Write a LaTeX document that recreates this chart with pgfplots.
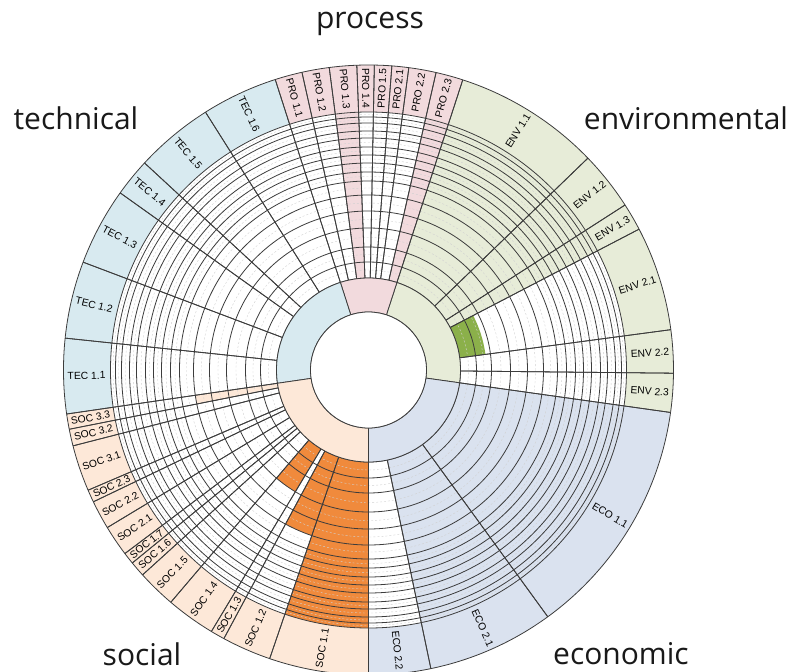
\documentclass[border=0pt]{standalone}
\usepackage{pgfplots}
\usepackage{pgfplotstable}
\pgfplotsset{compat=1.18}
\usepackage{fontspec}
\setmainfont{Liberation Sans}
\newfontfamily\titlefont{Open Sans}

\definecolor{envc}{HTML}{E7ECD8}
\definecolor{proc}{HTML}{F2DADD}
\definecolor{tecc}{HTML}{D8EAF0}
\definecolor{socc}{HTML}{FDE8D8}
\definecolor{ecoc}{HTML}{DAE2EF}
\definecolor{hiorange}{HTML}{F08A3C}
\definecolor{higreen}{HTML}{8BB04A}
\definecolor{linec}{HTML}{3C3C3C}

% label sectors: start/end angle (deg), label, label-ring colour, cell colour
\pgfplotstableread[col sep=comma]{
a1,a2,lab,bg,cell
72,44,ENV 1.1,envc,envc
44,32.75,ENV 1.2,envc,envc
32.75,27.5,ENV 1.3,envc,envc
27.5,7.6,ENV 2.1,envc,white
7.6,-0.6,ENV 2.2,envc,white
-0.6,-8,ENV 2.3,envc,white
-8,-54,ECO 1.1,ecoc,ecoc
-54,-78.2,ECO 2.1,ecoc,ecoc
-78.2,-90,ECO 2.2,ecoc,white
251.1,270,SOC 1.1,socc,white
241.7,251.1,SOC 1.2,socc,white
239,241.7,SOC 1.3,socc,white
229.6,239,SOC 1.4,socc,white
222.2,229.6,SOC 1.5,socc,white
219.25,222.2,SOC 1.6,socc,white
217,219.25,SOC 1.7,socc,white
211.1,217,SOC 2.1,socc,white
205.6,211.1,SOC 2.2,socc,white
203.2,205.6,SOC 2.3,socc,white
194.4,203.2,SOC 3.1,socc,white
191.2,194.4,SOC 3.2,socc,white
188.3,191.2,SOC 3.3,socc,white
174,188.3,TEC 1.1,tecc,white
159.3,174,TEC 1.2,tecc,white
144.5,159.3,TEC 1.3,tecc,white
137.25,144.5,TEC 1.4,tecc,white
122.3,137.25,TEC 1.5,tecc,white
107.8,122.3,TEC 1.6,tecc,white
102.6,107.8,PRO 1.1,proc,white
97.4,102.6,PRO 1.2,proc,white
92.2,97.4,PRO 1.3,proc,proc
88.9,92.2,PRO 1.4,proc,white
85.6,88.9,PRO 1.5,proc,white
82.4,85.6,PRO 2.1,proc,white
77.2,82.4,PRO 2.2,proc,white
72,77.2,PRO 2.3,proc,proc
}\sectors

% inner category ring
\pgfplotstableread[col sep=comma]{
a1,a2,col
-8,72,envc
72,107.8,proc
107.8,188.3,tecc
188.3,270,socc
-90,-8,ecoc
}\cats

% highlighted cells
\pgfplotstableread[col sep=comma]{
a1,a2,r1,r2,col
251.1,270,92,258,hiorange
241.7,251.1,92,175,hiorange
229.6,239,92,142,hiorange
188.3,191.2,92,175,socc
7.6,27.5,92,118,higreen
}\highlights

% ring radii
\pgfplotstableread{
r
92
108
123
142
159
175
189
198
207
215
223
232
239
247
253
258
}\rings

\newcommand\annsec[5]{%
  \path[#5] (axis cs:{#3*cos(#1)},{#3*sin(#1)})
    arc[start angle=#1,end angle=#2,radius=#3pt]
    -- (axis cs:{#4*cos(#2)},{#4*sin(#2)})
    arc[start angle=#2,end angle=#1,radius=#4pt] -- cycle;}

\begin{document}
\begin{tikzpicture}
\useasboundingbox (-368.5pt,-302pt) rectangle (424.5pt,370pt);
\begin{axis}[hide axis, disabledatascaling, x=1pt, y=1pt,
  xmin=-368.5, xmax=424.5, ymin=-302, ymax=370,
  clip=false, anchor=origin, at={(0pt,0pt)}]
\pgfplotsextra{%
  \pgfplotstablegetrowsof{\sectors}\pgfmathtruncatemacro\nsec{\pgfplotsretval-1}%
  \pgfplotstablegetrowsof{\highlights}\pgfmathtruncatemacro\nhi{\pgfplotsretval-1}%
  \pgfplotstablegetrowsof{\rings}\pgfmathtruncatemacro\nring{\pgfplotsretval-1}%
  \pgfplotstablegetrowsof{\cats}\pgfmathtruncatemacro\ncat{\pgfplotsretval-1}%
  % label ring and cell columns
  \foreach \i in {0,...,\nsec}{%
    \pgfplotstablegetelem{\i}{a1}\of\sectors\let\aA\pgfplotsretval
    \pgfplotstablegetelem{\i}{a2}\of\sectors\let\aB\pgfplotsretval
    \pgfplotstablegetelem{\i}{bg}\of\sectors\let\bg\pgfplotsretval
    \pgfplotstablegetelem{\i}{cell}\of\sectors\let\cc\pgfplotsretval
    \annsec{\aA}{\aB}{258}{305}{fill=\bg}
    \annsec{\aA}{\aB}{92}{258}{fill=\cc}
  }%
  % highlighted cells
  \foreach \i in {0,...,\nhi}{%
    \pgfplotstablegetelem{\i}{a1}\of\highlights\let\aA\pgfplotsretval
    \pgfplotstablegetelem{\i}{a2}\of\highlights\let\aB\pgfplotsretval
    \pgfplotstablegetelem{\i}{r1}\of\highlights\let\rA\pgfplotsretval
    \pgfplotstablegetelem{\i}{r2}\of\highlights\let\rB\pgfplotsretval
    \pgfplotstablegetelem{\i}{col}\of\highlights\let\hc\pgfplotsretval
    \annsec{\aA}{\aB}{\rA}{\rB}{fill=\hc}
  }%
  % faint mid circles and ring circles
  \foreach \i in {1,...,\nring}{%
    \pgfplotstablegetelem{\i}{r}\of\rings\let\rB\pgfplotsretval
    \pgfmathtruncatemacro\j{\i-1}%
    \pgfplotstablegetelem{\j}{r}\of\rings\let\rA\pgfplotsretval
    \pgfmathsetmacro\rm{(\rA+\rB)/2}%
    \draw[black!18, line width=0.4pt, dash pattern=on 2pt off 2pt] (axis cs:0,0) circle[radius=\rm pt];
  }%
  \foreach \i in {0,...,\nring}{%
    \pgfplotstablegetelem{\i}{r}\of\rings\let\rA\pgfplotsretval
    \draw[linec, line width=0.8pt] (axis cs:0,0) circle[radius=\rA pt];
  }%
  \draw[linec, line width=0.8pt] (axis cs:0,0) circle[radius=305pt];
  % radial lines
  \foreach \i in {0,...,\nsec}{%
    \pgfplotstablegetelem{\i}{a1}\of\sectors\let\aA\pgfplotsretval
    \pgfplotstablegetelem{\i}{a2}\of\sectors\let\aB\pgfplotsretval
    \draw[linec, line width=0.8pt] (axis cs:{92*cos(\aA)},{92*sin(\aA)}) -- (axis cs:{305*cos(\aA)},{305*sin(\aA)});
    \draw[linec, line width=0.8pt] (axis cs:{92*cos(\aB)},{92*sin(\aB)}) -- (axis cs:{305*cos(\aB)},{305*sin(\aB)});
  }%
  % inner category ring
  \foreach \i in {0,...,\ncat}{%
    \pgfplotstablegetelem{\i}{a1}\of\cats\let\aA\pgfplotsretval
    \pgfplotstablegetelem{\i}{a2}\of\cats\let\aB\pgfplotsretval
    \pgfplotstablegetelem{\i}{col}\of\cats\let\cc\pgfplotsretval
    \annsec{\aA}{\aB}{58}{92}{fill=\cc, draw=linec, line width=0.8pt}
  }%
  \draw[linec, line width=0.8pt, fill=white] (axis cs:0,0) circle[radius=58pt];
  % labels
  \foreach \i in {0,...,\nsec}{%
    \pgfplotstablegetelem{\i}{a1}\of\sectors\let\aA\pgfplotsretval
    \pgfplotstablegetelem{\i}{a2}\of\sectors\let\aB\pgfplotsretval
    \pgfplotstablegetelem{\i}{lab}\of\sectors\let\lab\pgfplotsretval
    \pgfmathsetmacro\mid{(\aA+\aB)/2}%
    \pgfmathsetmacro\rot{ifthenelse(\mid>90,\mid-180,\mid)}%
    \node[rotate=\rot, inner sep=0pt, text=black, font=\fontsize{10.3}{12}\selectfont]
      at (axis cs:{282*cos(\mid)},{282*sin(\mid)}) {\lab};
  }%
  % group titles
  \begin{scope}[every node/.style={font=\titlefont\fontsize{30}{36}\selectfont, text=black!90, inner sep=0pt}]
    \node at (axis cs:1.5,346) {process};
    \node at (axis cs:-292.5,252) {technical};
    \node at (axis cs:317.5,252) {environmental};
    \node at (axis cs:-226.5,-284) {social};
    \node at (axis cs:252.5,-284) {economic};
  \end{scope}
}
\end{axis}
\end{tikzpicture}
\end{document}
